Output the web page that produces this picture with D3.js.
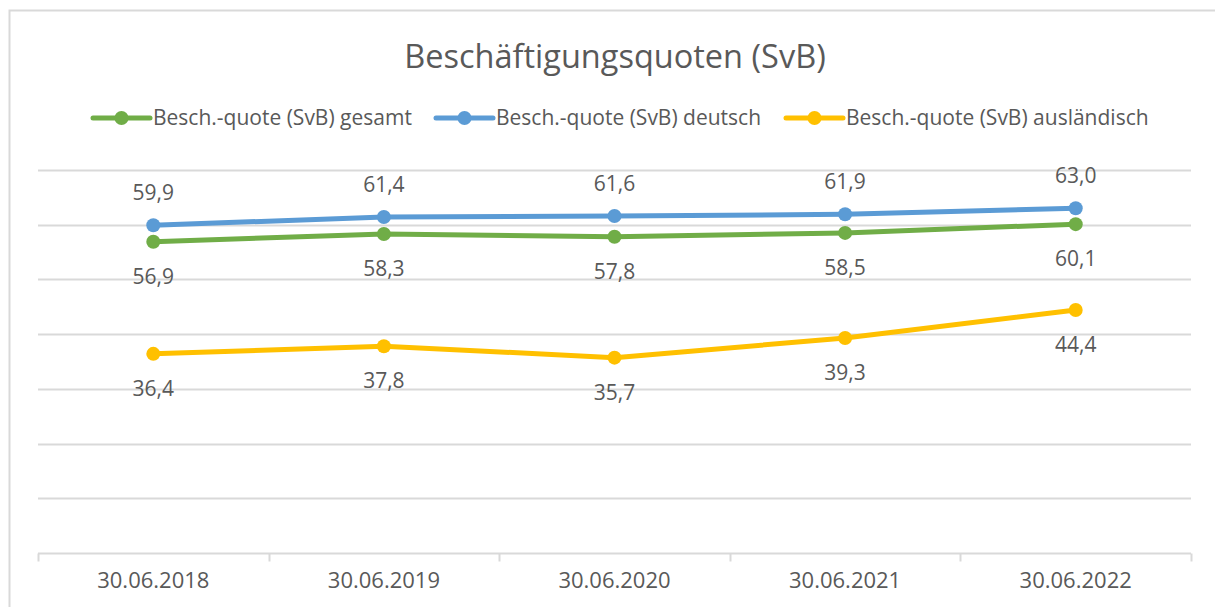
<!DOCTYPE html>
<html>
<head>
<meta charset="utf-8">
<script src="https://cdn.jsdelivr.net/npm/d3@7"></script>
<style>
  body { margin: 0; background: #fff; }
  svg text { font-family: "Open Sans", Lato, sans-serif; fill: #595959; }
</style>
</head>
<body>
<div id="chart"></div>
<script>
// data
var dates = ['30.06.2018', '30.06.2019', '30.06.2020', '30.06.2021', '30.06.2022'];
var gesamt = [56.9, 58.3, 57.8, 58.5, 60.1];
var deutsch = [59.9, 61.4, 61.6, 61.9, 63.0];
var auslaendisch = [36.4, 37.8, 35.7, 39.3, 44.4];
var seriesNames = ['Besch.-quote (SvB) gesamt', 'Besch.-quote (SvB) deutsch', 'Besch.-quote (SvB) ausländisch'];
var yTicks = [0, 10, 20, 30, 40, 50, 60, 70];

var chart_width = 1215;
var chart_height = 607;

var series = [
  { name: seriesNames[0], values: gesamt, color: '#70ad47', labelPos: 'below' },
  { name: seriesNames[1], values: deutsch, color: '#5b9bd5', labelPos: 'above' },
  { name: seriesNames[2], values: auslaendisch, color: '#ffc000', labelPos: 'below' }
];

var svg = d3.select('#chart')
  .append('svg')
  .attr('width', chart_width)
  .attr('height', chart_height);

// chart border (only top/left visible in the crop)
svg.append('rect')
  .attr('x', 9.5)
  .attr('y', 10.5)
  .attr('width', 1230)
  .attr('height', 620)
  .attr('fill', '#fff')
  .attr('stroke', '#d9d9d9')
  .attr('stroke-width', 2);

// title
svg.append('text')
  .attr('x', 615)
  .attr('y', 68)
  .attr('text-anchor', 'middle')
  .style('font-size', '32.5px')
  .text('Beschäftigungsquoten (SvB)');

// scales
var x_scale = d3.scaleBand()
  .domain(dates)
  .range([38, 1191]);

var y_scale = d3.scaleLinear()
  .domain([0, 70])
  .range([553, 170]);

// gridlines
svg.append('g')
  .selectAll('line')
  .data(yTicks.slice(1))
  .enter()
  .append('line')
  .attr('x1', 38)
  .attr('x2', 1191)
  .attr('y1', function(d) { return Math.round(y_scale(d)) + 0.5; })
  .attr('y2', function(d) { return Math.round(y_scale(d)) + 0.5; })
  .attr('stroke', '#d9d9d9')
  .attr('stroke-width', 2);

// x axis
var x_axis = d3.axisBottom(x_scale).tickSize(0).tickPadding(19);
var xg = svg.append('g')
  .attr('transform', 'translate(0,' + (Math.round(y_scale(0)) + 0.5) + ')')
  .call(x_axis);
xg.select('.domain').remove();
xg.selectAll('text')
  .style('font-size', '22px')
  .attr('fill', '#595959')
  .style('font-family', '"Open Sans", Lato, sans-serif');

xg.append('line')
  .attr('x1', 38).attr('x2', 1191)
  .attr('stroke', '#d9d9d9').attr('stroke-width', 2);

// category separators
var seps = dates.map(function(d) { return x_scale(d); }).concat([x_scale.range()[1]]);
xg.selectAll('.sep')
  .data(seps)
  .enter()
  .append('line')
  .attr('class', 'sep')
  .attr('x1', function(d) { return Math.round(d) + 0.5; })
  .attr('x2', function(d) { return Math.round(d) + 0.5; })
  .attr('y1', 0)
  .attr('y2', 8)
  .attr('stroke', '#d9d9d9')
  .attr('stroke-width', 2);

var cx = function(i) { return x_scale(dates[i]) + x_scale.bandwidth() / 2; };

var line = d3.line()
  .x(function(d, i) { return cx(i); })
  .y(function(d) { return y_scale(d); });

// lines, markers, labels
series.forEach(function(s) {
  var g = svg.append('g');
  g.append('path')
    .attr('d', line(s.values))
    .attr('fill', 'none')
    .attr('stroke', s.color)
    .attr('stroke-width', 5)
    .attr('stroke-linejoin', 'round')
    .attr('stroke-linecap', 'round');

  g.selectAll('circle')
    .data(s.values)
    .enter()
    .append('circle')
    .attr('cx', function(d, i) { return cx(i); })
    .attr('cy', function(d) { return y_scale(d); })
    .attr('r', 7)
    .attr('fill', s.color);

  g.selectAll('text')
    .data(s.values)
    .enter()
    .append('text')
    .attr('x', function(d, i) { return cx(i); })
    .attr('y', function(d) {
      return s.labelPos === 'above' ? y_scale(d) - 25 : y_scale(d) + 42;
    })
    .attr('text-anchor', 'middle')
    .style('font-size', '21px')
    .text(function(d) { return d.toFixed(1).replace('.', ','); });
});

// legend
var legendX = [93, 436, 786];
var legend = svg.append('g')
  .selectAll('g')
  .data(series)
  .enter()
  .append('g')
  .attr('transform', function(d, i) { return 'translate(' + legendX[i] + ',118)'; });

legend.append('line')
  .attr('x1', 0).attr('x2', 57)
  .attr('stroke', function(d) { return d.color; })
  .attr('stroke-width', 5)
  .attr('stroke-linecap', 'round');

legend.append('circle')
  .attr('cx', 28.5)
  .attr('r', 7)
  .attr('fill', function(d) { return d.color; });

legend.append('text')
  .attr('x', 60)
  .attr('y', 7)
  .style('font-size', '21px')
  .text(function(d) { return d.name; });
</script>
</body>
</html>
